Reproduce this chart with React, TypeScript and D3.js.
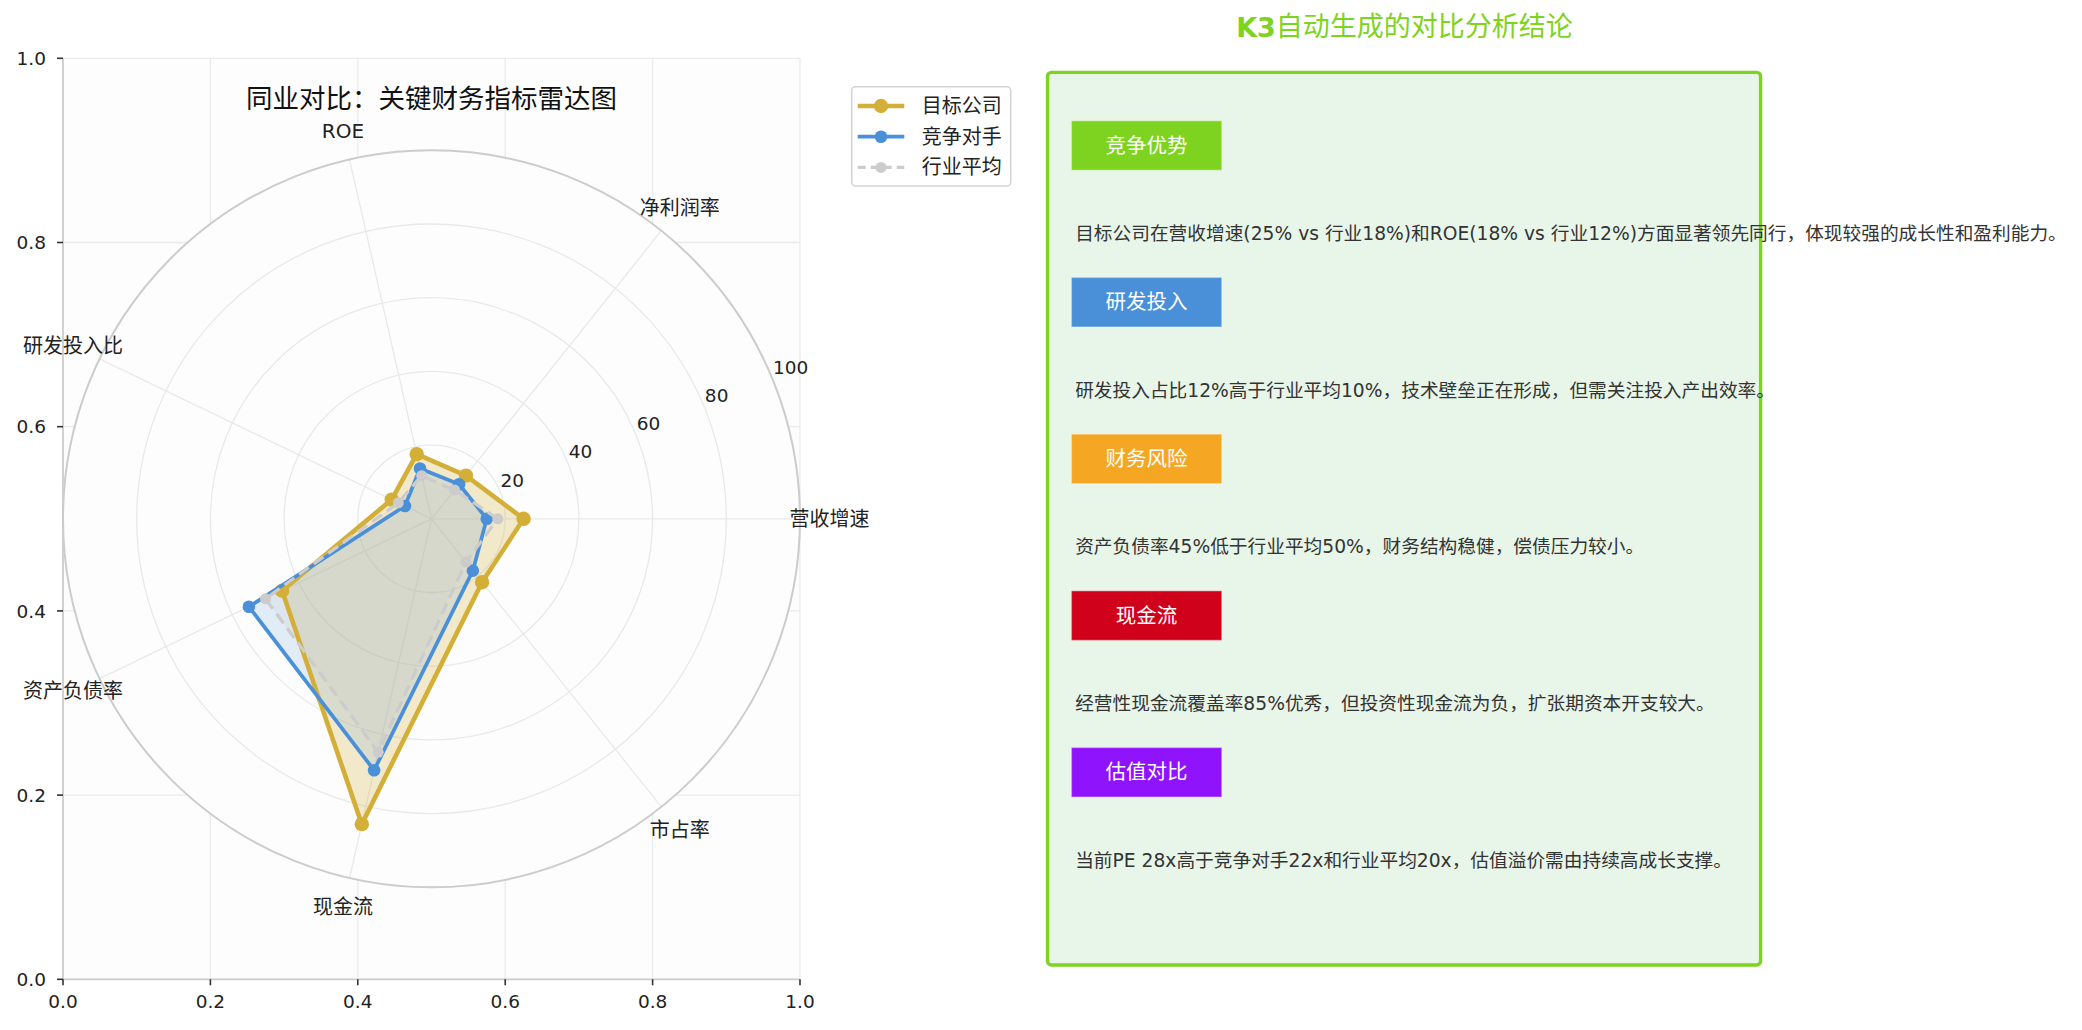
import * as d3 from 'd3';

// ---- data ----
const categories = ['营收增速', '净利润率', 'ROE', '研发投入比', '资产负债率', '现金流', '市占率'];
const targetValues = [25, 15, 18, 12, 45, 85, 22];
const competitorValues = [15, 12, 14, 8, 55, 70, 18];
const industryValues = [18, 10, 12, 10, 50, 65, 15];
const seriesNames = ['目标公司', '竞争对手', '行业平均'];
const radialTicks = [20, 40, 60, 80, 100];
const gridTicks = [0, 0.2, 0.4, 0.6, 0.8, 1.0];

const badgeLabels = ['竞争优势', '研发投入', '财务风险', '现金流', '估值对比'];
const conclusions = [
    '目标公司在营收增速(25% vs 行业18%)和ROE(18% vs 行业12%)方面显著领先同行，体现较强的成长性和盈利能力。',
    '研发投入占比12%高于行业平均10%，技术壁垒正在形成，但需关注投入产出效率。',
    '资产负债率45%低于行业平均50%，财务结构稳健，偿债压力较小。',
    '经营性现金流覆盖率85%优秀，但投资性现金流为负，扩张期资本开支较大。',
    '当前PE 28x高于竞争对手22x和行业平均20x，估值溢价需由持续高成长支撑。',
];

// ---- styles ----
const FONT = "'DejaVu Sans', 'Noto Sans CJK SC', sans-serif";
const seriesStyles = [
    { color: '#d4af37', width: 4.6, r: 7.2, fillOpacity: 0.25, dash: undefined as string | undefined },
    { color: '#4a90d9', width: 3.7, r: 6.3, fillOpacity: 0.15, dash: undefined as string | undefined },
    { color: '#cccccc', width: 3.2, r: 5.5, fillOpacity: 0.2, dash: '12,6' },
];
const badgeColors = ['#7ed321', '#4a90d9', '#f5a623', '#d0021b', '#9013fe'];

const W = 2082;
const H = 1030;
const plot = { left: 63, right: 800, top: 58.3, bottom: 979.3 };

export default function App() {
    const x = d3.scaleLinear().domain([0, 1]).range([plot.left, plot.right]);
    const y = d3.scaleLinear().domain([0, 1]).range([plot.bottom, plot.top]);
    const cx = (plot.left + plot.right) / 2;
    const cy = (plot.top + plot.bottom) / 2;
    const R = (plot.right - plot.left) / 2;
    const r = d3.scaleLinear().domain([0, 100]).range([0, R]);
    const theta = d3
        .scaleLinear()
        .domain([0, categories.length])
        .range([0, 2 * Math.PI]);
    // d3 radial angle is clockwise from 12 o'clock; matplotlib's is counter-clockwise from 3 o'clock
    const angle = (i: number) => Math.PI / 2 - theta(i);
    const px = (i: number, v: number) => cx + r(v) * Math.cos(theta(i));
    const py = (i: number, v: number) => cy - r(v) * Math.sin(theta(i));

    const radial = d3
        .lineRadial<number>()
        .angle((_d, i) => angle(i))
        .radius((d) => r(d))
        .curve(d3.curveLinearClosed);

    const allSeries = [targetValues, competitorValues, industryValues];
    const rl = (22.5 * Math.PI) / 180;

    const boxTop = 120.7;
    const step = 156.7;

    return (
        <svg
            width={W}
            height={H}
            viewBox={`0 0 ${W} ${H}`}
            style={{ position: 'absolute', left: 0, top: 0, display: 'block', background: '#fff' }}
            fontFamily={FONT}
        >
            {/* cartesian axes underneath */}
            <rect
                x={plot.left}
                y={plot.top}
                width={plot.right - plot.left}
                height={plot.bottom - plot.top}
                fill="#fdfdfd"
            />
            {gridTicks.map((t) => (
                <g key={`g${t}`} stroke="#ebebeb" strokeWidth={1.3}>
                    <line x1={x(t)} x2={x(t)} y1={plot.top} y2={plot.bottom} />
                    <line x1={plot.left} x2={plot.right} y1={y(t)} y2={y(t)} />
                </g>
            ))}
            <line x1={plot.left} x2={plot.left} y1={plot.top} y2={plot.bottom} stroke="#cccccc" strokeWidth={1.7} />
            <line x1={plot.left} x2={plot.right} y1={plot.bottom} y2={plot.bottom} stroke="#cccccc" strokeWidth={1.7} />
            {gridTicks.map((t) => (
                <g key={`t${t}`} fontSize={18.5} fill="#222">
                    <line x1={x(t)} x2={x(t)} y1={plot.bottom} y2={plot.bottom + 6} stroke="#333" strokeWidth={1.6} />
                    <text x={x(t)} y={plot.bottom + 29} textAnchor="middle">
                        {t.toFixed(1)}
                    </text>
                    <line x1={plot.left - 6} x2={plot.left} y1={y(t)} y2={y(t)} stroke="#333" strokeWidth={1.6} />
                    <text x={plot.left - 17} y={y(t) + 6.7} textAnchor="end">
                        {t.toFixed(1)}
                    </text>
                </g>
            ))}

            {/* polar axes */}
            <circle cx={cx} cy={cy} r={R} fill="#fdfdfd" />
            {radialTicks.slice(0, -1).map((t) => (
                <circle key={t} cx={cx} cy={cy} r={r(t)} fill="none" stroke="#e9e9e9" strokeWidth={1.3} />
            ))}
            {categories.map((c, i) => (
                <line
                    key={c}
                    x1={cx}
                    y1={cy}
                    x2={px(i, 100)}
                    y2={py(i, 100)}
                    stroke="#e9e9e9"
                    strokeWidth={1.3}
                />
            ))}
            <circle cx={cx} cy={cy} r={R} fill="none" stroke="#cccccc" strokeWidth={2} />
            {radialTicks.map((t) => (
                <text
                    key={`rl${t}`}
                    x={cx + r(t) * Math.cos(rl) + 1}
                    y={cy - r(t) * Math.sin(rl) - 4}
                    fontSize={18.5}
                    fill="#222"
                >
                    {t}
                </text>
            ))}
            {categories.map((c, i) => (
                <text
                    key={`cl${c}`}
                    x={cx + (R + 29.5) * Math.cos(theta(i))}
                    y={cy - (R + 29.5) * Math.sin(theta(i))}
                    textAnchor="middle"
                    dominantBaseline="central"
                    fontSize={20}
                    fill="#222"
                >
                    {c}
                </text>
            ))}

            <g transform={`translate(${cx},${cy})`}>
                {allSeries.map((vals, k) => (
                    <path
                        key={`f${k}`}
                        d={radial(vals) ?? ''}
                        fill={seriesStyles[k].color}
                        fillOpacity={seriesStyles[k].fillOpacity}
                        stroke="none"
                    />
                ))}
            </g>
            {allSeries.map((vals, k) => {
                const s = seriesStyles[k];
                return (
                    <g key={`s${k}`}>
                        <path
                            transform={`translate(${cx},${cy})`}
                            d={radial(vals) ?? ''}
                            fill="none"
                            stroke={s.color}
                            strokeWidth={s.width}
                            strokeDasharray={s.dash}
                            strokeLinejoin="round"
                        />
                        {vals.map((v, i) => (
                            <circle key={i} cx={px(i, v)} cy={py(i, v)} r={s.r} fill={s.color} />
                        ))}
                    </g>
                );
            })}

            <text x={cx} y={98.3} textAnchor="middle" dominantBaseline="central" fontSize={26.5} fill="#111">
                同业对比：关键财务指标雷达图
            </text>

            {/* legend */}
            <rect x={851.7} y={86.7} width={159} height={99.3} rx={4} fill="#fff" stroke="#d4d4d4" strokeWidth={1.6} />
            {seriesNames.map((n, k) => {
                const s = seriesStyles[k];
                const ly = 106 + k * 30.7;
                return (
                    <g key={n}>
                        <line
                            x1={857.7}
                            x2={904.3}
                            y1={ly}
                            y2={ly}
                            stroke={s.color}
                            strokeWidth={s.width}
                            strokeDasharray={s.dash ? '8,5' : undefined}
                        />
                        <circle cx={881} cy={ly} r={s.r} fill={s.color} />
                        <text x={921.7} y={ly} dominantBaseline="central" fontSize={20} fill="#222">
                            {n}
                        </text>
                    </g>
                );
            })}

            {/* conclusion panel */}
            <text x={1404.5} y={26.7} textAnchor="middle" dominantBaseline="central" fontSize={27} fill="#7ed321">
                <tspan fontWeight="bold">K3</tspan>
                自动生成的对比分析结论
            </text>
            <rect
                x={1047.5}
                y={72.4}
                width={1762.3 - 1047.5 - 1.7}
                height={966.7 - 72.4 - 1.7}
                rx={4}
                fill="#e8f5e9"
                stroke="#7ed321"
                strokeWidth={3.4}
            />
            {badgeLabels.map((b, i) => (
                <g key={b}>
                    <rect
                        x={1071.4}
                        y={boxTop + i * step}
                        width={150.4}
                        height={49.6}
                        fill={badgeColors[i]}
                        stroke="#ffffff"
                        strokeOpacity={0.35}
                        strokeWidth={1.4}
                    />
                    <text
                        x={1146.6}
                        y={boxTop + i * step + 24.8}
                        textAnchor="middle"
                        dominantBaseline="central"
                        fontSize={20.5}
                        fill="#fff"
                    >
                        {b}
                    </text>
                    <text
                        x={1075.2}
                        y={233.3 + i * step}
                        dominantBaseline="central"
                        fontSize={18.7}
                        fill="#333"
                    >
                        {conclusions[i]}
                    </text>
                </g>
            ))}
        </svg>
    );
}
